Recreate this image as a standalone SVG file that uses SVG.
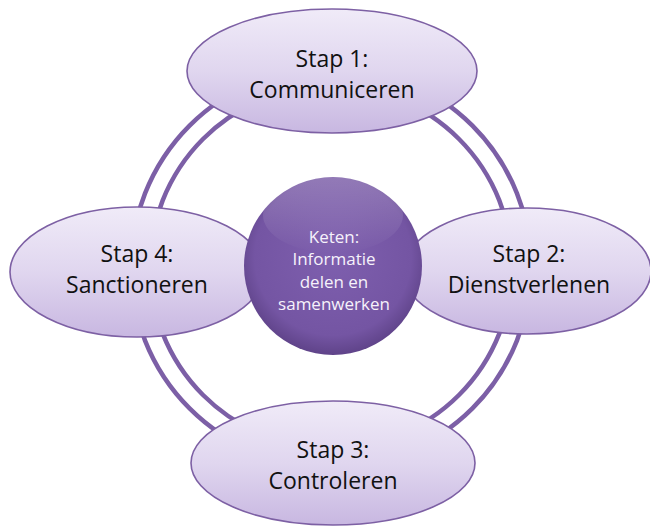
<svg xmlns="http://www.w3.org/2000/svg" width="650" height="526" viewBox="0 0 650 526">
  <defs>
    <linearGradient id="gEll" x1="0" y1="0" x2="0" y2="1">
      <stop offset="0" stop-color="#f0ebf8"/>
      <stop offset="0.5" stop-color="#e0d6ef"/>
      <stop offset="1" stop-color="#c8b7e1"/>
    </linearGradient>
    <radialGradient id="gCir" cx="0.5" cy="0.45" r="0.55">
      <stop offset="0" stop-color="#7e5fae"/>
      <stop offset="0.8" stop-color="#7455a3"/>
      <stop offset="1" stop-color="#5f4389"/>
    </radialGradient>
    <linearGradient id="gHi" x1="0" y1="0" x2="0" y2="1">
      <stop offset="0" stop-color="#ffffff" stop-opacity="0.22"/>
      <stop offset="1" stop-color="#ffffff" stop-opacity="0"/>
    </linearGradient>
  </defs>
  <style>
    .ring { fill: none; stroke: #7c5fa6; stroke-width: 4.5; }
    .ell { fill: url(#gEll); stroke: #7d60a4; stroke-width: 1.6; }
    .lbl { font-family: "Open Sans", "Noto Sans", sans-serif; font-size: 23px; fill: #111111; text-anchor: middle; }
    .ctr { font-family: "Open Sans", "Noto Sans", sans-serif; font-size: 17px; fill: #f6f2fb; text-anchor: middle; }
  </style>
  <rect width="650" height="526" fill="#ffffff"/>
  <g id="connectors">
    <circle class="ring" cx="331" cy="267" r="200"/>
    <circle class="ring" cx="331" cy="267" r="181"/>
  </g>
  <g id="stap1">
    <ellipse class="ell" cx="332" cy="71" rx="145" ry="62"/>
    <text class="lbl" x="332" y="67">Stap 1:</text>
    <text class="lbl" x="332" y="98">Communiceren</text>
  </g>
  <g id="stap2">
    <ellipse class="ell" cx="527" cy="271" rx="124" ry="63"/>
    <text class="lbl" x="529" y="262">Stap 2:</text>
    <text class="lbl" x="529" y="293">Dienstverlenen</text>
  </g>
  <g id="stap3">
    <ellipse class="ell" cx="333" cy="463" rx="142" ry="62"/>
    <text class="lbl" x="333" y="458">Stap 3:</text>
    <text class="lbl" x="333" y="489">Controleren</text>
  </g>
  <g id="stap4">
    <ellipse class="ell" cx="137" cy="272" rx="127" ry="65"/>
    <text class="lbl" x="137" y="262">Stap 4:</text>
    <text class="lbl" x="137" y="293">Sanctioneren</text>
  </g>
  <g id="keten">
    <circle cx="333" cy="266" r="89" fill="url(#gCir)"/>
    <ellipse cx="333" cy="215" rx="70" ry="38" fill="url(#gHi)"/>
    <text class="ctr" x="334" y="243">Keten:</text>
    <text class="ctr" x="334" y="265">Informatie</text>
    <text class="ctr" x="334" y="288">delen en</text>
    <text class="ctr" x="334" y="310">samenwerken</text>
  </g>
</svg>
